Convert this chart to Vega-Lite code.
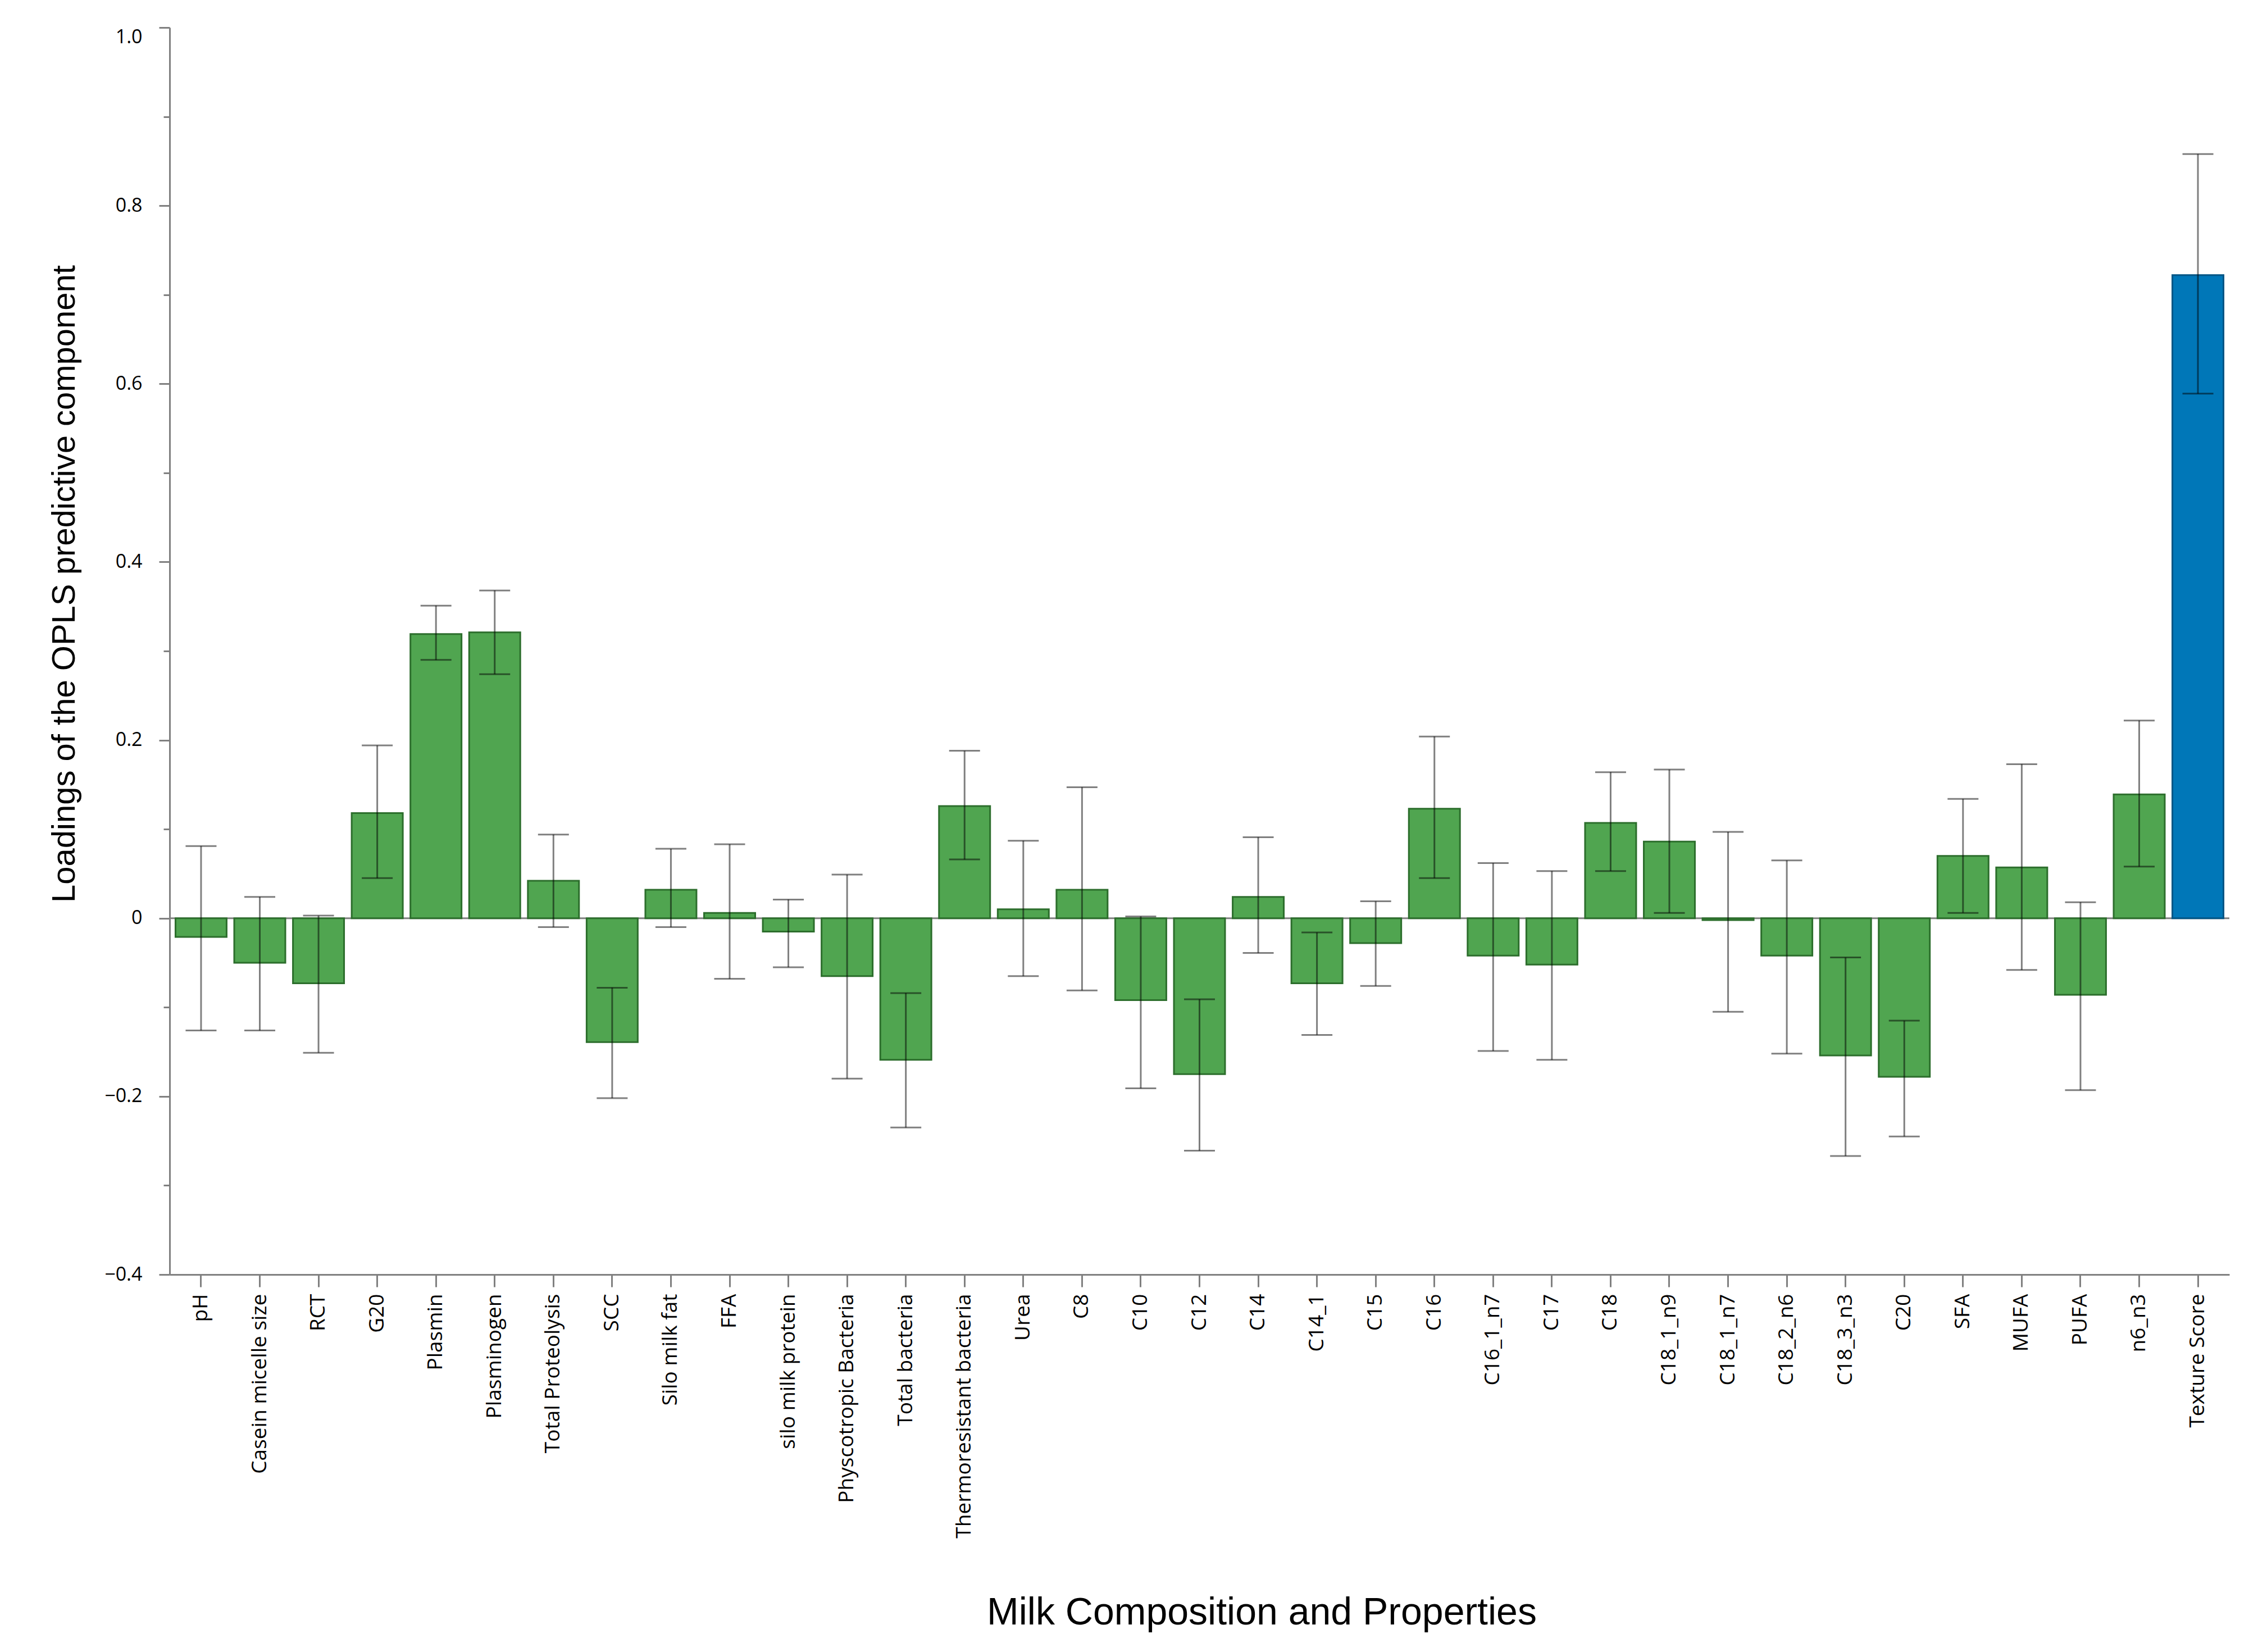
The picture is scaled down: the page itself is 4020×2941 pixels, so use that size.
{
  "$schema": "https://vega.github.io/schema/vega-lite/v6.json",
  "width": 3667,
  "height": 2220,
  "autosize": {"type": "none"},
  "padding": {"left": 302, "top": 49, "right": 51, "bottom": 672},
  "background": "white",
  "config": {"view": {"stroke": null}},
  "data": {"values": [
    {"name": "pH", "val": -0.021, "lo": -0.126, "hi": 0.081, "grp": "x"},
    {"name": "Casein micelle size", "val": -0.05, "lo": -0.126, "hi": 0.024, "grp": "x"},
    {"name": "RCT", "val": -0.073, "lo": -0.151, "hi": 0.003, "grp": "x"},
    {"name": "G20", "val": 0.118, "lo": 0.045, "hi": 0.194, "grp": "x"},
    {"name": "Plasmin", "val": 0.319, "lo": 0.29, "hi": 0.351, "grp": "x"},
    {"name": "Plasminogen", "val": 0.321, "lo": 0.274, "hi": 0.368, "grp": "x"},
    {"name": "Total Proteolysis", "val": 0.042, "lo": -0.01, "hi": 0.094, "grp": "x"},
    {"name": "SCC", "val": -0.139, "lo": -0.202, "hi": -0.078, "grp": "x"},
    {"name": "Silo milk fat", "val": 0.032, "lo": -0.01, "hi": 0.078, "grp": "x"},
    {"name": "FFA", "val": 0.006, "lo": -0.068, "hi": 0.083, "grp": "x"},
    {"name": "silo milk protein", "val": -0.015, "lo": -0.055, "hi": 0.021, "grp": "x"},
    {"name": "Physcotropic Bacteria", "val": -0.065, "lo": -0.18, "hi": 0.049, "grp": "x"},
    {"name": "Total bacteria", "val": -0.159, "lo": -0.235, "hi": -0.084, "grp": "x"},
    {"name": "Thermoresistant bacteria", "val": 0.126, "lo": 0.066, "hi": 0.188, "grp": "x"},
    {"name": "Urea", "val": 0.01, "lo": -0.065, "hi": 0.087, "grp": "x"},
    {"name": "C8", "val": 0.032, "lo": -0.081, "hi": 0.147, "grp": "x"},
    {"name": "C10", "val": -0.092, "lo": -0.191, "hi": 0.002, "grp": "x"},
    {"name": "C12", "val": -0.175, "lo": -0.261, "hi": -0.091, "grp": "x"},
    {"name": "C14", "val": 0.024, "lo": -0.039, "hi": 0.091, "grp": "x"},
    {"name": "C14_1", "val": -0.073, "lo": -0.131, "hi": -0.016, "grp": "x"},
    {"name": "C15", "val": -0.028, "lo": -0.076, "hi": 0.019, "grp": "x"},
    {"name": "C16", "val": 0.123, "lo": 0.045, "hi": 0.204, "grp": "x"},
    {"name": "C16_1_n7", "val": -0.042, "lo": -0.149, "hi": 0.062, "grp": "x"},
    {"name": "C17", "val": -0.052, "lo": -0.159, "hi": 0.053, "grp": "x"},
    {"name": "C18", "val": 0.107, "lo": 0.053, "hi": 0.164, "grp": "x"},
    {"name": "C18_1_n9", "val": 0.086, "lo": 0.006, "hi": 0.167, "grp": "x"},
    {"name": "C18_1_n7", "val": -0.002, "lo": -0.105, "hi": 0.097, "grp": "x"},
    {"name": "C18_2_n6", "val": -0.042, "lo": -0.152, "hi": 0.065, "grp": "x"},
    {"name": "C18_3_n3", "val": -0.154, "lo": -0.267, "hi": -0.044, "grp": "x"},
    {"name": "C20", "val": -0.178, "lo": -0.245, "hi": -0.115, "grp": "x"},
    {"name": "SFA", "val": 0.07, "lo": 0.006, "hi": 0.134, "grp": "x"},
    {"name": "MUFA", "val": 0.057, "lo": -0.058, "hi": 0.173, "grp": "x"},
    {"name": "PUFA", "val": -0.086, "lo": -0.193, "hi": 0.018, "grp": "x"},
    {"name": "n6_n3", "val": 0.139, "lo": 0.058, "hi": 0.222, "grp": "x"},
    {"name": "Texture Score", "val": 0.722, "lo": 0.589, "hi": 0.858, "grp": "y"}
  ]},
  "encoding": {
    "x": {
      "field": "name", "type": "nominal", "sort": null,
      "scale": {"paddingInner": 0.13, "paddingOuter": 0.1},
      "axis": {
        "title": "Milk Composition and Properties",
        "titleFont": "Liberation Sans", "titleFontSize": 68, "titleFontWeight": "normal", "titleColor": "black",
        "titleX": 1944, "titleY": 602, "titleBaseline": "middle",
        "labelFont": "Open Sans", "labelFontSize": 37, "labelColor": "black",
        "labelAngle": -90, "labelPadding": 12, "labelLimit": 0,
        "tickSize": 22, "tickWidth": 3, "tickColor": "#808080",
        "domainColor": "#808080", "domainWidth": 3
      }
    }
  },
  "layer": [
    {
      "data": {"values": [{"z": 0}]},
      "mark": {"type": "rule", "color": "#808080", "strokeWidth": 3},
      "encoding": {"x": null, "y": {"field": "z", "type": "quantitative"}}
    },
    {
      "mark": {"type": "bar", "strokeWidth": 3},
      "encoding": {
        "y": {
          "field": "val", "type": "quantitative",
          "scale": {"domain": [-0.4, 1.0], "nice": false, "zero": false},
          "axis": {
            "title": "Loadings of the OPLS predictive component",
            "titleFont": "Liberation Sans", "titleFontSize": 58, "titleFontWeight": "normal", "titleColor": "black",
            "titleX": -187, "titleY": 990, "titleBaseline": "middle", "titleAngle": -90,
            "values": [-0.4, -0.3, -0.2, -0.1, 0, 0.1, 0.2, 0.3, 0.4, 0.5, 0.6, 0.7, 0.8, 0.9, 1.0],
            "labelExpr": "abs(round(datum.value*10)) % 2 == 0 ? (abs(datum.value) < 0.001 ? '0' : format(datum.value, '.1f')) : ''",
            "labelFont": "Open Sans", "labelFontSize": 34, "labelColor": "black",
            "labelBaseline": {"condition": {"test": "datum.value > 0.99", "value": "top"}, "value": "middle"},
            "labelPadding": 30,
            "tickSize": {"condition": {"test": "abs(round(datum.value*10)) % 2 == 0", "value": 19}, "value": 11},
            "tickWidth": 3, "tickColor": "#808080",
            "domainColor": "#808080", "domainWidth": 3,
            "grid": false
          }
        },
        "y2": {"datum": 0},
        "color": {"field": "grp", "type": "nominal", "scale": {"domain": ["x", "y"], "range": ["#50a550", "#0077b8"]}, "legend": null},
        "stroke": {"field": "grp", "type": "nominal", "scale": {"domain": ["x", "y"], "range": ["#2c6e2c", "#005585"]}, "legend": null}
      }
    },
    {
      "mark": {"type": "rule", "color": "black", "opacity": 0.5, "strokeWidth": 3},
      "encoding": {
        "y": {"field": "lo", "type": "quantitative"},
        "y2": {"field": "hi"}
      }
    },
    {
      "mark": {"type": "tick", "color": "black", "opacity": 0.5, "size": 55, "thickness": 3},
      "encoding": {"y": {"field": "lo", "type": "quantitative"}}
    },
    {
      "mark": {"type": "tick", "color": "black", "opacity": 0.5, "size": 55, "thickness": 3},
      "encoding": {"y": {"field": "hi", "type": "quantitative"}}
    }
  ]
}
